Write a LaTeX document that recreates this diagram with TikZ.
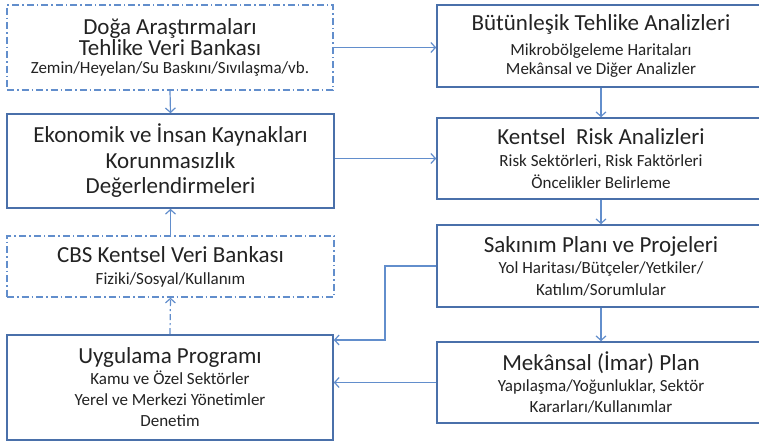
\documentclass[tikz,border=0pt]{standalone}
\usepackage{fontspec}
\setmainfont{Carlito}
\usetikzlibrary{arrows.meta}
\definecolor{boxblue}{RGB}{74,112,170}
\definecolor{arrblue}{RGB}{98,142,204}
\definecolor{txt}{RGB}{35,35,35}
\tikzset{
  box/.style={draw=boxblue, line width=1.6pt, fill=white, inner sep=0pt, align=center, text=txt},
  dbox/.style={box, line width=1.3pt, draw=arrblue, dash pattern=on 7pt off 3pt on 1.5pt off 3pt},
  conn/.style={draw=arrblue, line width=1.2pt, -{Straight Barb[length=4.5pt,width=10pt]}},
  dconn/.style={conn, dash pattern=on 6pt off 3pt on 2pt off 3pt},
  bs/.style={font=\fontsize{17}{#1}\selectfont},
}
\newcommand{\tl}{\fontsize{23}{23}\selectfont}
\newcommand{\sbt}{\fontsize{17}{17}\selectfont}
\begin{document}
\begin{tikzpicture}[x=1pt,y=-1pt]
\useasboundingbox (0,0) rectangle (759,445);
\node[dbox, bs=19.5, minimum width=326pt, minimum height=85pt] (A) at (170,47.5)
  {\tl Doğa Araştırmaları\\\tl Tehlike Veri Bankası\\[-1pt]\sbt Zemin/Heyelan/Su Baskını/Sıvılaşma/vb.};
\node[box, bs=19.5, minimum width=328pt, minimum height=82pt] (B) at (601,46)
  {\tl Bütünleşik Tehlike Analizleri\\[5pt]\sbt Mikrobölgeleme Haritaları\\\sbt Mekânsal ve Diğer Analizler};
\node[box, bs=25.5, minimum width=327pt, minimum height=94pt] (C) at (170.5,161)
  {\tl Ekonomik ve İnsan Kaynakları\\\tl Korunmasızlık\\\tl Değerlendirmeleri};
\node[box, bs=21.7, minimum width=328pt, minimum height=81pt] (D) at (601,158.5)
  {\tl Kentsel\ \ Risk Analizleri\\\sbt Risk Sektörleri, Risk Faktörleri\\\sbt Öncelikler Belirleme};
\node[dbox, bs=22, minimum width=327pt, minimum height=61pt] (E) at (170.5,266.5)
  {\tl CBS Kentsel Veri Bankası\\\sbt Fiziki/Sosyal/Kullanım};
\node[box, bs=21, minimum width=326pt, minimum height=105pt] (F) at (170,387.5)
  {\tl Uygulama Programı\\\sbt Kamu ve Özel Sektörler\\\sbt Yerel ve Merkezi Yönetimler\\\sbt Denetim};
\node[box, bs=21.5, minimum width=328pt, minimum height=82pt] (G) at (601,266)
  {\tl Sakınım Planı ve Projeleri\\\sbt Yol Haritası/Bütçeler/Yetkiler/\\\sbt Katılım/Sorumlular};
\node[box, bs=21, minimum width=328pt, minimum height=81pt] (H) at (601,382.5)
  {\tl Mekânsal (İmar) Plan\\\sbt Yapılaşma/Yoğunluklar, Sektör\\\sbt Kararları/Kullanımlar};
\coordinate (g1) at (385,266);
\coordinate (g2) at (385,340);
\draw[conn] (A.east) -- (A.east -| B.west);
\draw[conn] (A.south) -- (C.north);
\draw[conn] (C.east |- D.west) -- (D.west);
\draw[conn] (E.north) -- (C.south);
\draw[dconn] (F.north) -- (E.south);
\draw[conn] (B.south) -- (D.north);
\draw[conn] (D.south) -- (G.north);
\draw[conn] (G.south) -- (H.north);
\draw[conn] (G.west |- g1) -- (g1) -- (g2) -- (g2 -| F.east);
\draw[conn] (H.west) -- (H.west -| F.east);
\end{tikzpicture}
\end{document}
